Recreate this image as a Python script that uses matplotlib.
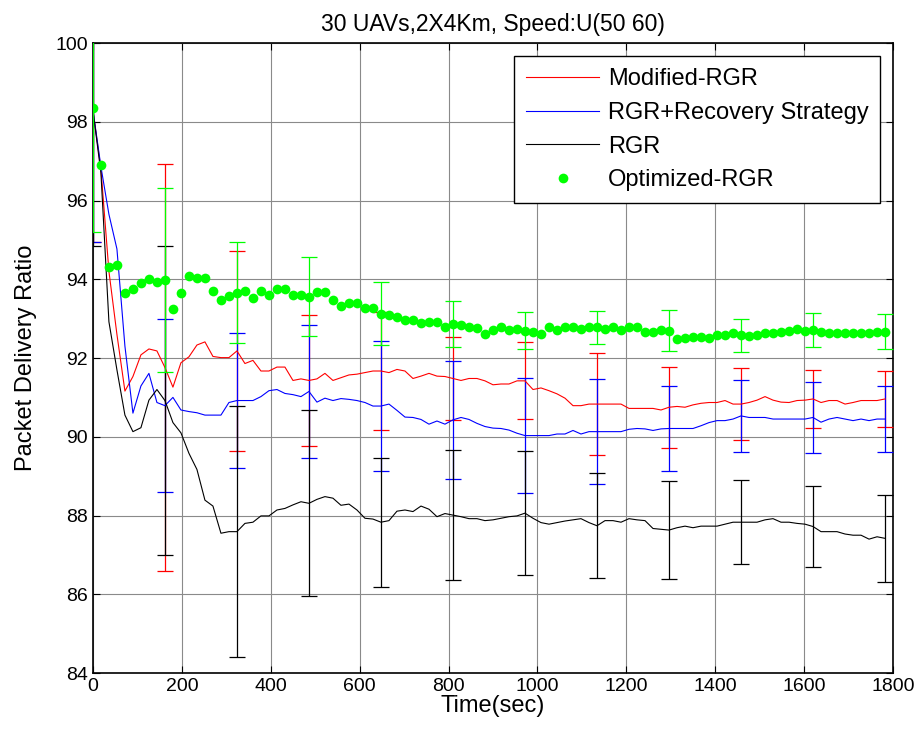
import numpy as np
import matplotlib
matplotlib.use("Agg")
import matplotlib.pyplot as plt

plt.rcParams['font.family'] = ['Liberation Sans', 'DejaVu Sans']

# sample time (sec), one sample every 18 s
t = np.arange(0, 1800, 18)

modified_rgr = [
    98.30, 96.80, 94.20, 92.60, 91.16, 91.53, 92.08, 92.23, 92.18, 91.76,
    91.26, 91.88, 92.03, 92.33, 92.41, 92.04, 92.01, 92.01, 92.18, 91.86,
    91.94, 91.67, 91.67, 91.77, 91.77, 91.43, 91.47, 91.43, 91.47, 91.61,
    91.43, 91.50, 91.57, 91.59, 91.63, 91.67, 91.67, 91.63, 91.71, 91.67,
    91.48, 91.54, 91.61, 91.54, 91.53, 91.48, 91.43, 91.48, 91.48, 91.42,
    91.32, 91.34, 91.34, 91.42, 91.42, 91.20, 91.24, 91.17, 91.09, 90.98,
    90.79, 90.79, 90.83, 90.83, 90.83, 90.83, 90.83, 90.72, 90.72, 90.72,
    90.72, 90.68, 90.75, 90.77, 90.75, 90.81, 90.85, 90.87, 90.87, 90.92,
    90.83, 90.83, 90.87, 90.93, 91.02, 90.93, 90.88, 90.87, 90.92, 90.93,
    90.96, 90.87, 90.92, 90.92, 90.83, 90.87, 90.92, 90.92, 90.92, 90.96,
]

rgr_recovery = [
    98.30, 96.86, 95.65, 94.77, 92.30, 90.60, 91.29, 91.61, 90.87, 90.79,
    91.00, 90.68, 90.64, 90.61, 90.55, 90.55, 90.55, 90.87, 90.92, 90.92,
    90.92, 91.02, 91.17, 91.20, 91.10, 91.07, 91.02, 91.15, 90.88, 90.98,
    90.92, 90.97, 90.95, 90.92, 90.87, 90.78, 90.78, 90.83, 90.67, 90.50,
    90.49, 90.44, 90.32, 90.40, 90.32, 90.43, 90.49, 90.44, 90.34, 90.26,
    90.22, 90.21, 90.17, 90.09, 90.03, 90.03, 90.03, 90.03, 90.07, 90.07,
    90.16, 90.07, 90.13, 90.13, 90.13, 90.13, 90.13, 90.19, 90.21, 90.20,
    90.16, 90.20, 90.21, 90.21, 90.21, 90.21, 90.28, 90.36, 90.41, 90.41,
    90.45, 90.53, 90.49, 90.49, 90.49, 90.45, 90.45, 90.45, 90.45, 90.45,
    90.49, 90.37, 90.45, 90.49, 90.45, 90.41, 90.45, 90.41, 90.45, 90.45,
]

rgr = [
    98.30, 96.70, 92.92, 91.70, 90.55, 90.13, 90.23, 90.93, 91.20, 90.92,
    90.36, 90.10, 89.58, 89.17, 88.39, 88.24, 87.55, 87.59, 87.59, 87.80,
    87.83, 87.99, 87.99, 88.14, 88.18, 88.27, 88.35, 88.31, 88.41, 88.48,
    88.44, 88.26, 88.29, 88.14, 87.93, 87.91, 87.83, 87.87, 88.11, 88.14,
    88.10, 88.24, 88.16, 87.97, 88.05, 88.01, 87.97, 87.92, 87.92, 87.87,
    87.89, 87.93, 87.97, 87.99, 88.06, 87.93, 87.82, 87.78, 87.82, 87.86,
    87.89, 87.92, 87.82, 87.74, 87.87, 87.87, 87.83, 87.92, 87.89, 87.87,
    87.67, 87.65, 87.63, 87.69, 87.73, 87.69, 87.73, 87.73, 87.73, 87.78,
    87.83, 87.83, 87.83, 87.83, 87.89, 87.92, 87.83, 87.83, 87.80, 87.78,
    87.72, 87.59, 87.59, 87.59, 87.53, 87.50, 87.50, 87.40, 87.46, 87.42,
]

optimized_rgr = [
    98.34, 96.89, 94.32, 94.37, 93.66, 93.75, 93.90, 94.00, 93.93, 93.99,
    93.24, 93.66, 94.08, 94.03, 94.03, 93.71, 93.47, 93.57, 93.66, 93.71,
    93.52, 93.71, 93.61, 93.76, 93.76, 93.61, 93.61, 93.56, 93.67, 93.67,
    93.47, 93.32, 93.39, 93.39, 93.28, 93.28, 93.13, 93.09, 93.03, 92.96,
    92.96, 92.90, 92.91, 92.91, 92.80, 92.86, 92.84, 92.80, 92.75, 92.62,
    92.71, 92.78, 92.71, 92.74, 92.69, 92.67, 92.61, 92.78, 92.71, 92.78,
    92.78, 92.73, 92.78, 92.78, 92.73, 92.78, 92.71, 92.78, 92.78, 92.67,
    92.67, 92.71, 92.69, 92.48, 92.52, 92.54, 92.54, 92.50, 92.58, 92.58,
    92.63, 92.58, 92.56, 92.58, 92.63, 92.63, 92.67, 92.69, 92.73, 92.69,
    92.71, 92.67, 92.63, 92.63, 92.63, 92.63, 92.63, 92.63, 92.67, 92.67,
]

# error bars every 9th sample (t = 0, 162, ..., 1782)
bar_idx = np.arange(0, 100, 9)
err_modified = [3.35, 5.17, 2.53, 1.67, 1.50, 1.05, 0.98, 1.29, 1.03, 0.92, 0.74, 0.71]
err_recovery = [3.35, 2.20, 1.71, 1.68, 1.65, 1.50, 1.47, 1.34, 1.07, 0.92, 0.89, 0.84]
err_rgr = [3.46, 3.93, 3.18, 2.36, 1.64, 1.66, 1.57, 1.33, 1.24, 1.06, 1.02, 1.10]
err_optimized = [3.15, 2.34, 1.29, 1.01, 0.81, 0.59, 0.47, 0.42, 0.52, 0.42, 0.44, 0.45]

fig = plt.figure(figsize=(9.2, 7.43), dpi=100)
ax = fig.add_axes([0.101, 0.0942, 0.8697, 0.8479])

series = [
    (modified_rgr, err_modified, 'red', 'Modified-RGR'),
    (rgr_recovery, err_recovery, 'blue', 'RGR+Recovery Strategy'),
    (rgr, err_rgr, 'black', 'RGR'),
]
for vals, err, col, name in series:
    vals = np.array(vals)
    ax.errorbar(t[bar_idx], vals[bar_idx], yerr=err, fmt='none', ecolor=col,
                elinewidth=0.9, capsize=6, capthick=0.9, zorder=3)
    ax.plot(t, vals, color=col, lw=0.8, label=name, zorder=4)

opt = np.array(optimized_rgr)
ax.errorbar(t[bar_idx], opt[bar_idx], yerr=err_optimized, fmt='none', ecolor='#00ff00',
            elinewidth=0.9, capsize=6, capthick=0.9, zorder=5)
ax.plot(t, opt, 'o', color='#00ff00', ms=7, mec='none', label='Optimized-RGR', zorder=6)

ax.set_xlim(0, 1800)
ax.set_ylim(84, 100)
ax.set_xticks(np.arange(0, 1801, 200))
ax.set_yticks(np.arange(84, 101, 2))
ax.grid(True, color='#8a8a8a', lw=0.8)
ax.set_axisbelow(True)
ax.tick_params(direction='in', top=True, right=True, labelsize=14, length=5)
for sp in ax.spines.values():
    sp.set_linewidth(1.2)

ax.set_title("30 UAVs,2X4Km, Speed:U(50 60)", fontsize=16.5, pad=9)
ax.set_xlabel("Time(sec)", fontsize=17, labelpad=0)
ax.set_ylabel("Packet Delivery Ratio", fontsize=17, labelpad=13)

leg = ax.legend(loc='upper right', bbox_to_anchor=(0.984, 0.979), borderaxespad=0,
                fontsize=17, fancybox=False, edgecolor='black', framealpha=1,
                handlelength=3.1, handletextpad=0.35, borderpad=0.5,
                labelspacing=0.5, numpoints=1)
leg.get_frame().set_linewidth(1.0)

fig.savefig("out.png", dpi=100)
